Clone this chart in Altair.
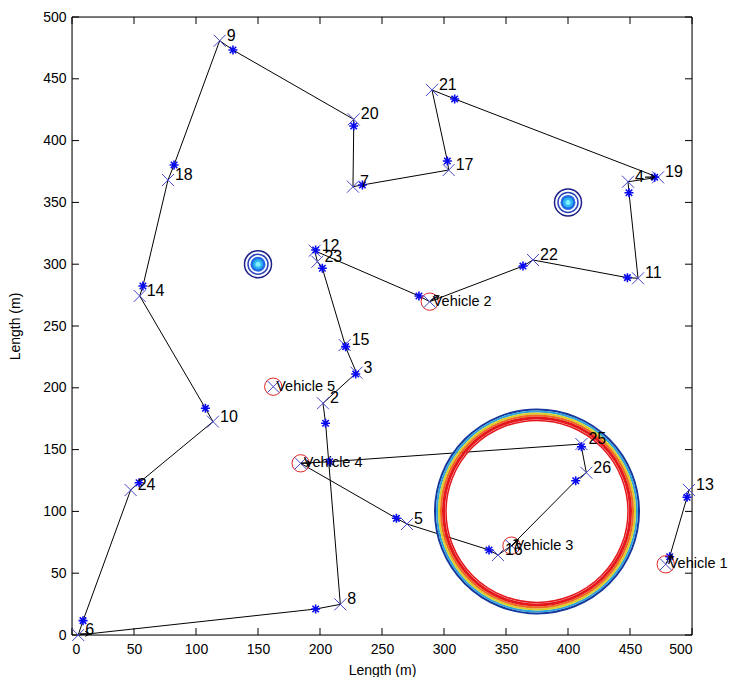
import altair as alt
import pandas as pd

# ---------------- data ----------------
tgt_id = ["2", "3", "4", "5", "6", "7", "8", "9", "10", "11", "12", "13", "14",
          "15", "16", "17", "18", "19", "20", "21", "22", "23", "24", "25", "26"]
tgt_x = [202.4, 229.4, 448.4, 270.2, 5.0, 226.6, 216.4, 119.1, 113.7, 456.5, 195.7, 497.6, 54.6,
         219.9, 343.5, 303.8, 77.4, 472.6, 227.2, 290.3, 371.8, 197.9, 47.3, 410.8, 414.8]
tgt_y = [187.5, 212.2, 366.7, 89.8, 0.0, 362.7, 24.8, 480.8, 172.6, 288.6, 310.9, 117.3, 274.3,
         234.6, 64.7, 376.2, 368.1, 370.3, 417.2, 441.0, 303.4, 302.0, 117.3, 154.5, 131.3]

star_x = [204.5, 228.8, 449.2, 261.6, 8.9, 234.2, 196.5, 129.8, 107.6, 447.9, 196.5, 496.0, 57.2,
          220.7, 336.3, 302.7, 82.3, 469.9, 227.2, 308.6, 363.7, 201.9, 54.1, 410.8, 406.2,
          482.0, 279.8, 207.8]
star_y = [171.3, 211.2, 357.8, 94.4, 11.6, 364.1, 21.0, 473.3, 183.4, 289.1, 311.5, 111.4, 282.4,
          233.3, 68.8, 383.5, 380.3, 370.3, 411.8, 433.7, 298.5, 296.7, 123.2, 152.3, 124.8,
          63.3, 274.3, 140.2]

veh_name = ["Vehicle 1", "Vehicle 2", "Vehicle 3", "Vehicle 4", "Vehicle 5"]
veh_x = [478.8, 288.5, 354.4, 184.4, 162.3]
veh_y = [57.2, 269.7, 72.3, 138.9, 200.9]

# heading arrows (black)
arr_x = [482.5, 292.5, 357.0, 188.5, 466.0, 10.0]
arr_y = [61.0, 272.5, 74.5, 139.0, 370.5, 1.0]
arr_a = [290, 330, 315, 0, 0, 0]

# routes (ordered)
r1_x = [288.5, 279.8, 195.7, 197.9, 201.9, 220.7, 219.9, 229.4, 202.4, 204.5, 216.4, 196.5, 5.0, 8.9,
        47.3, 54.1, 113.7, 107.6, 54.6, 57.2, 77.4, 82.3, 119.1, 129.8, 227.2, 227.2, 226.6, 234.2,
        303.8, 302.7, 290.3, 308.6, 472.6, 448.4, 449.2, 456.5, 447.9, 371.8, 363.7, 288.5]
r1_y = [269.7, 274.3, 310.9, 302.0, 296.7, 233.3, 234.6, 212.2, 187.5, 171.3, 24.8, 21.0, 0.0, 11.6,
        117.3, 123.2, 172.6, 183.4, 274.3, 282.4, 368.1, 380.3, 480.8, 473.3, 417.2, 411.8, 362.7, 364.1,
        376.2, 383.5, 441.0, 433.7, 370.3, 366.7, 357.8, 288.6, 289.1, 303.4, 298.5, 269.7]
r2_x = [184.4, 207.8, 410.8, 410.8, 414.8, 406.2, 354.4]
r2_y = [138.9, 140.2, 154.5, 152.3, 131.3, 124.8, 72.3]
r3_x = [184.4, 261.6, 270.2, 336.3, 343.5, 354.4]
r3_y = [138.9, 94.4, 89.8, 68.8, 64.7, 72.3]
r4_x = [478.8, 482.0, 496.0, 497.6]
r4_y = [57.2, 63.3, 111.4, 117.3]

# obstacles
obs_small_x = [150.0, 400.0]
obs_small_y = [300.0, 350.0]
obs_big_x = [375.0]
obs_big_y = [100.0]

tick_vals = list(range(0, 501, 50))
x_lim = [0, 500]
y_lim = [0, 500]

# ---------------- frames ----------------
W, H = 620, 618
TLX = 7 * (x_lim[1] - x_lim[0]) / W   # 7 px inward tick length in data units
TLY = 7 * (y_lim[1] - y_lim[0]) / H

rows = []
for name, xs_, ys_ in [("r1", r1_x, r1_y), ("r2", r2_x, r2_y), ("r3", r3_x, r3_y), ("r4", r4_x, r4_y)]:
    for i, (a, b) in enumerate(zip(xs_, ys_)):
        rows.append({"route": name, "seq": i, "x": a, "y": b})
routes = pd.DataFrame(rows)
tgts = pd.DataFrame({"id": tgt_id, "x": tgt_x, "y": tgt_y})
stars = pd.DataFrame({"x": star_x, "y": star_y})
vehs = pd.DataFrame({"name": veh_name, "x": veh_x, "y": veh_y})
arrows = pd.DataFrame({"x": arr_x, "y": arr_y, "a": arr_a})
small = pd.DataFrame({"x": obs_small_x, "y": obs_small_y})
big = pd.DataFrame({"x": obs_big_x, "y": obs_big_y})

# tick segments derived from the tick values and axis limits
tk_rows = []
for v in tick_vals:
    tk_rows.append({"x": v, "x2": v, "y": y_lim[0], "y2": y_lim[0] + TLY})      # bottom
    tk_rows.append({"x": v, "x2": v, "y": y_lim[1], "y2": y_lim[1] - TLY})      # top
    tk_rows.append({"x": x_lim[0], "x2": x_lim[0] + TLX, "y": v, "y2": v})      # left
    tk_rows.append({"x": x_lim[1], "x2": x_lim[1] - TLX, "y": v, "y2": v})      # right
tickseg = pd.DataFrame(tk_rows)
frame = pd.DataFrame({"x": [x_lim[0]], "x2": [x_lim[1]], "y": [y_lim[0]], "y2": [y_lim[1]]})

FONT = "Liberation Sans"
xsc = alt.Scale(domain=x_lim, nice=False, zero=False)
ysc = alt.Scale(domain=y_lim, nice=False, zero=False)

X_NONE = alt.X("x:Q", scale=xsc, axis=None)
Y_NONE = alt.Y("y:Q", scale=ysc, axis=None)

X_PATH = "M-1,-1L1,1M-1,1L1,-1"
STAR_PATH = "M0,-1L0,1M-1,0L1,0M-0.72,-0.72L0.72,0.72M-0.72,0.72L0.72,-0.72"
ARROW_PATH = "M-1,0L1,0M0.2,-0.55L1,0L0.2,0.55"

# main layer carrying bottom/left axes (labels only)
lines = alt.Chart(routes).mark_line(color="black", strokeWidth=1).encode(
    x=alt.X("x:Q", scale=xsc,
            axis=alt.Axis(values=tick_vals, title="Length (m)", grid=False, domain=False,
                          ticks=False, labelPadding=7,
                          labelFont=FONT, labelFontSize=14, labelColor="black",
                          titleFont=FONT, titleFontSize=14, titleFontWeight="normal",
                          titleColor="black", titlePadding=7)),
    y=alt.Y("y:Q", scale=ysc,
            axis=alt.Axis(values=tick_vals, title="Length (m)", grid=False, domain=False,
                          ticks=False, labelPadding=6,
                          labelFont=FONT, labelFontSize=14, labelColor="black",
                          titleFont=FONT, titleFontSize=14, titleFontWeight="normal",
                          titleColor="black", titlePadding=20)),
    detail="route:N",
    order="seq:Q",
)

ticks = alt.Chart(tickseg).mark_rule(color="black", strokeWidth=1).encode(
    x=X_NONE, y=Y_NONE, x2="x2:Q", y2="y2:Q")
box = alt.Chart(frame).mark_rect(filled=False, stroke="black", strokeWidth=1, fillOpacity=0).encode(
    x=X_NONE, y=Y_NONE, x2="x2:Q", y2="y2:Q")

def ring(df, size, stroke, sw, fill=None):
    kw = dict(shape="circle", size=size, strokeWidth=sw, opacity=1)
    if fill is None:
        kw.update(filled=False, color=stroke)
    else:
        kw.update(filled=True, color=fill, fillOpacity=1)
    return alt.Chart(df).mark_point(**kw).encode(x=X_NONE, y=Y_NONE)

big_layers = [
    ring(big, 204 ** 2, "#16379c", 2),
    ring(big, 200 ** 2, "#2fa3dc", 2),
    ring(big, 196 ** 2, "#d8cf2a", 2),
    ring(big, 192 ** 2, "#ef6a1e", 2),
    ring(big, 187 ** 2, "#e4181c", 3),
    ring(big, 182 ** 2, "#e4181c", 1.5),
]
small_layers = [
    ring(small, 27 ** 2, "#1c1f86", 1.5),
    ring(small, 20 ** 2, "#2a43b8", 1.5),
    ring(small, 15 ** 2, None, 0, fill="#1f6be6"),
    ring(small, 10 ** 2, None, 0, fill="#2fb4f2"),
    ring(small, 5 ** 2, None, 0, fill="#7ff0ff"),
]

xmarks = alt.Chart(tgts).mark_point(shape=X_PATH, size=144, filled=False, color="#4646c8",
                                     strokeWidth=1, opacity=1).encode(x=X_NONE, y=Y_NONE)
starmarks = alt.Chart(stars).mark_point(shape=STAR_PATH, size=81, filled=False, color="#0a0af0",
                                         strokeWidth=1.6, opacity=1).encode(x=X_NONE, y=Y_NONE)
vcirc = alt.Chart(vehs).mark_point(shape="circle", size=300, filled=False, color="#e02424",
                                    strokeWidth=1, opacity=1).encode(x=X_NONE, y=Y_NONE)
vx = alt.Chart(vehs).mark_point(shape=X_PATH, size=144, filled=False, color="#4646c8",
                                 strokeWidth=1, opacity=1).encode(x=X_NONE, y=Y_NONE)
arrowmarks = alt.Chart(arrows).mark_point(shape=ARROW_PATH, size=90, filled=False, color="black",
                                           strokeWidth=1.2, opacity=1).encode(
    x=X_NONE, y=Y_NONE, angle=alt.Angle("a:Q", scale=None))

tlabels = alt.Chart(tgts).mark_text(align="left", baseline="middle", dx=7, dy=-5,
                                     font=FONT, fontSize=16, color="black").encode(
    x=X_NONE, y=Y_NONE, text="id:N")
vlabels = alt.Chart(vehs).mark_text(align="left", baseline="middle", dx=3, dy=0,
                                     font=FONT, fontSize=14.5, color="black").encode(
    x=X_NONE, y=Y_NONE, text="name:N")

chart = alt.layer(
    lines, ticks, box,
    *big_layers, *small_layers, xmarks, starmarks, vcirc, vx, arrowmarks,
    tlabels, vlabels,
).resolve_axis(x="independent", y="independent").properties(
    width=W, height=H,
    autosize=alt.AutoSizeParams(type="none"),
    padding={"left": 64, "top": 9, "right": 36, "bottom": 42},
).configure_view(stroke="black", strokeWidth=1).configure(background="white")

chart.save("out.html", embed_options={"renderer": "svg", "actions": False})
